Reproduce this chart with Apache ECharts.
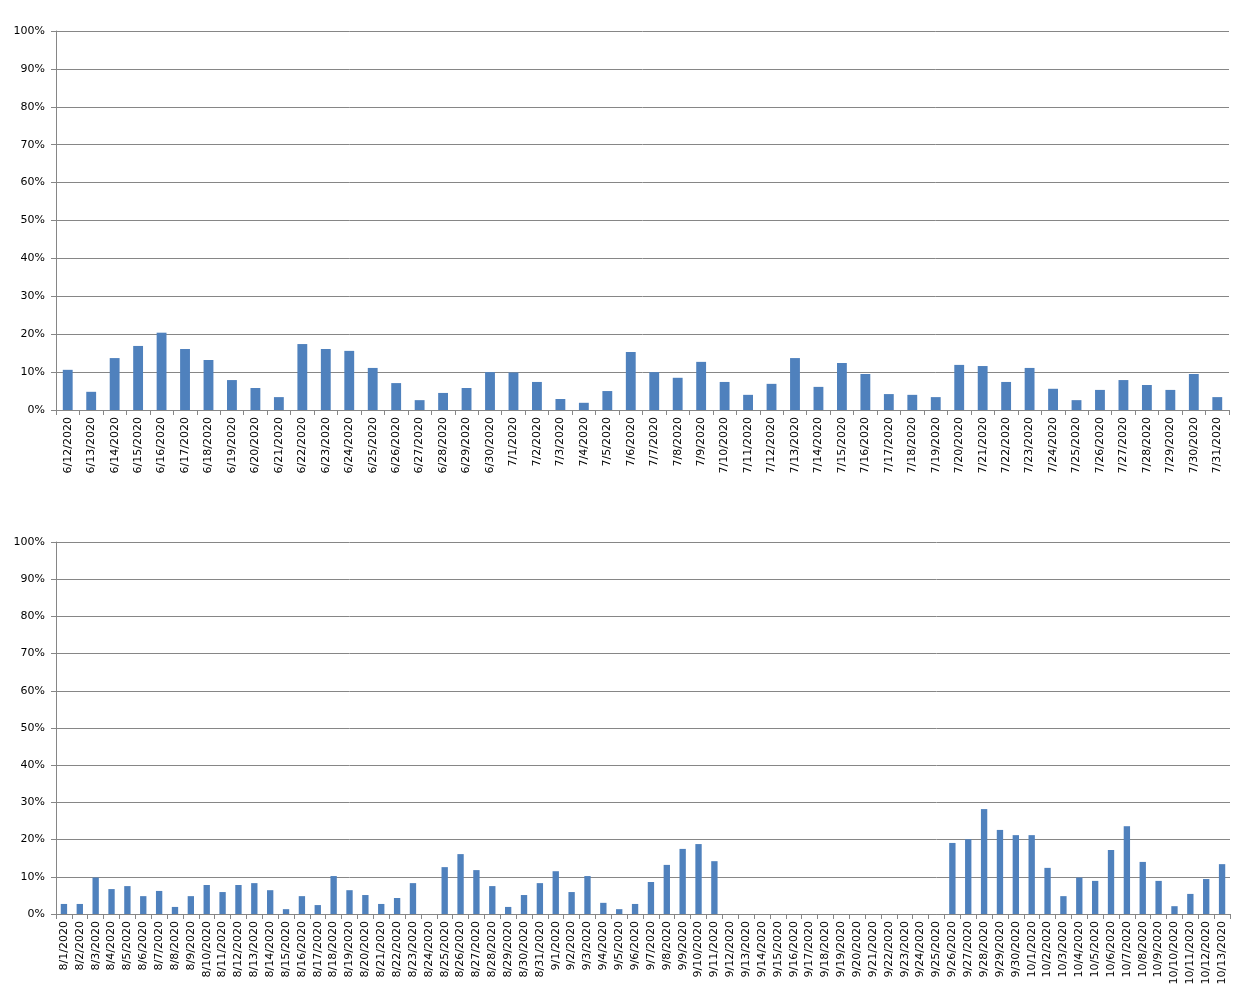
<!DOCTYPE html>
<html>
<head>
<meta charset="utf-8">
<script src="https://cdn.jsdelivr.net/npm/echarts@6/dist/echarts.min.js"></script>
<style>
html,body{margin:0;padding:0;background:#fff;}
#chart{width:1246px;height:996px;}
</style>
</head>
<body>
<div id="chart"></div>
<script>
const topDates = ["6/12/2020","6/13/2020","6/14/2020","6/15/2020","6/16/2020","6/17/2020","6/18/2020","6/19/2020","6/20/2020","6/21/2020","6/22/2020","6/23/2020","6/24/2020","6/25/2020","6/26/2020","6/27/2020","6/28/2020","6/29/2020","6/30/2020","7/1/2020","7/2/2020","7/3/2020","7/4/2020","7/5/2020","7/6/2020","7/7/2020","7/8/2020","7/9/2020","7/10/2020","7/11/2020","7/12/2020","7/13/2020","7/14/2020","7/15/2020","7/16/2020","7/17/2020","7/18/2020","7/19/2020","7/20/2020","7/21/2020","7/22/2020","7/23/2020","7/24/2020","7/25/2020","7/26/2020","7/27/2020","7/28/2020","7/29/2020","7/30/2020","7/31/2020"];
const topValues = [10.6,4.8,13.7,16.9,20.4,16.1,13.2,7.9,5.8,3.4,17.4,16.1,15.6,11.1,7.1,2.6,4.5,5.8,10.0,9.9,7.4,2.9,1.9,5.0,15.3,10.0,8.5,12.7,7.4,4.0,6.9,13.7,6.1,12.4,9.5,4.2,4.0,3.4,11.9,11.6,7.4,11.1,5.6,2.6,5.3,7.9,6.6,5.3,9.5,3.4];
const bottomDates = ["8/1/2020","8/2/2020","8/3/2020","8/4/2020","8/5/2020","8/6/2020","8/7/2020","8/8/2020","8/9/2020","8/10/2020","8/11/2020","8/12/2020","8/13/2020","8/14/2020","8/15/2020","8/16/2020","8/17/2020","8/18/2020","8/19/2020","8/20/2020","8/21/2020","8/22/2020","8/23/2020","8/24/2020","8/25/2020","8/26/2020","8/27/2020","8/28/2020","8/29/2020","8/30/2020","8/31/2020","9/1/2020","9/2/2020","9/3/2020","9/4/2020","9/5/2020","9/6/2020","9/7/2020","9/8/2020","9/9/2020","9/10/2020","9/11/2020","9/12/2020","9/13/2020","9/14/2020","9/15/2020","9/16/2020","9/17/2020","9/18/2020","9/19/2020","9/20/2020","9/21/2020","9/22/2020","9/23/2020","9/24/2020","9/25/2020","9/26/2020","9/27/2020","9/28/2020","9/29/2020","9/30/2020","10/1/2020","10/2/2020","10/3/2020","10/4/2020","10/5/2020","10/6/2020","10/7/2020","10/8/2020","10/9/2020","10/10/2020","10/11/2020","10/12/2020","10/13/2020"];
const bottomValues = [2.7,2.7,9.8,6.7,7.5,4.8,6.2,1.9,4.8,7.8,5.9,7.8,8.3,6.4,1.3,4.8,2.4,10.2,6.4,5.1,2.7,4.3,8.3,null,12.6,16.1,11.8,7.5,1.9,5.1,8.3,11.5,5.9,10.2,3.0,1.3,2.7,8.6,13.2,17.5,18.8,14.2,null,null,null,null,null,null,null,null,null,null,null,null,null,null,19.1,20.1,28.2,22.6,21.2,21.2,12.4,4.8,9.8,8.9,17.2,23.6,14.0,8.9,2.1,5.4,9.4,13.4];
const yTicks = {min:0, max:100, interval:10};

const axisColor = '#868686';
const font = 'DejaVu Sans';
function xAxis(idx, data){
  return {
    type:'category', gridIndex:idx, data:data,
    axisLine:{lineStyle:{color:axisColor}},
    axisTick:{show:true, length:5, lineStyle:{color:axisColor}},
    axisLabel:{interval:0, rotate:90, color:'#000', fontFamily:font, fontSize:11, margin:7}
  };
}
function yAxis(idx){
  return {
    type:'value', gridIndex:idx, min:yTicks.min, max:yTicks.max, interval:yTicks.interval,
    axisLine:{show:true, lineStyle:{color:axisColor}},
    axisTick:{show:true, length:5, lineStyle:{color:axisColor}},
    splitLine:{lineStyle:{color:axisColor}},
    axisLabel:{formatter:'{value}%', color:'#000', fontFamily:font, fontSize:11, margin:11}
  };
}
const chart = echarts.init(document.getElementById('chart'));
chart.setOption({
  animation:false,
  backgroundColor:'#fff',
  grid:[
    {left:56, right:17, top:31, height:379},
    {left:56, right:16, top:542, height:372}
  ],
  xAxis:[xAxis(0, topDates), xAxis(1, bottomDates)],
  yAxis:[yAxis(0), yAxis(1)],
  series:[
    {type:'bar', xAxisIndex:0, yAxisIndex:0, data:topValues, barWidth:'42%', itemStyle:{color:'#4f81bd'}},
    {type:'bar', xAxisIndex:1, yAxisIndex:1, data:bottomValues, barWidth:'40%', itemStyle:{color:'#4f81bd'}}
  ]
});
</script>
</body>
</html>
